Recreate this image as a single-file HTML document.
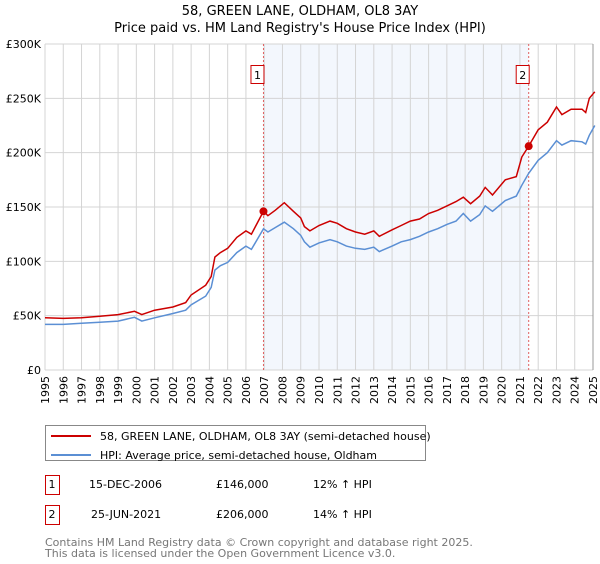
<!DOCTYPE html>
<html><head><meta charset="utf-8"><style>
body{margin:0;background:#fff;width:600px;height:560px;overflow:hidden;font-family:"DejaVu Sans","Liberation Sans",sans-serif;}
svg text{font-family:"DejaVu Sans","Liberation Sans",sans-serif;}
</style></head><body>
<svg id="chart" width="600" height="560" xmlns="http://www.w3.org/2000/svg">
<text x="300" y="15" text-anchor="middle" font-size="13" fill="#000">58, GREEN LANE, OLDHAM, OL8 3AY</text>
<text x="300" y="32" text-anchor="middle" font-size="13" fill="#000">Price paid vs. HM Land Registry's House Price Index (HPI)</text>
<g id="plot"></g>
<rect x="45.5" y="425.5" width="380" height="35" fill="#fff" stroke="#888"/>
<line x1="51" y1="436" x2="91" y2="436" stroke="#cc0000" stroke-width="2"/>
<text x="100" y="440" font-size="11">58, GREEN LANE, OLDHAM, OL8 3AY (semi-detached house)</text>
<line x1="51" y1="455" x2="91" y2="455" stroke="#5b8fd4" stroke-width="2"/>
<text x="100" y="459" font-size="11">HPI: Average price, semi-detached house, Oldham</text>
<rect x="45.5" y="475.5" width="14" height="19" fill="#fff" stroke="#cc0000"/>
<text x="52" y="488" text-anchor="middle" font-size="11">1</text>
<text x="89" y="488" font-size="11">15-DEC-2006</text>
<text x="216" y="488" font-size="11">£146,000</text>
<text x="313" y="488" font-size="11">12% ↑ HPI</text>
<rect x="45.5" y="505.5" width="14" height="19" fill="#fff" stroke="#cc0000"/>
<text x="52" y="518" text-anchor="middle" font-size="11">2</text>
<text x="91" y="518" font-size="11">25-JUN-2021</text>
<text x="216" y="518" font-size="11">£206,000</text>
<text x="313" y="518" font-size="11">14% ↑ HPI</text>
<text x="45" y="546" font-size="11" fill="#777">Contains HM Land Registry data © Crown copyright and database right 2025.</text>
<text x="45" y="557" font-size="11" fill="#777">This data is licensed under the Open Government Licence v3.0.</text>
</svg>
<script>
const yearTicks=[1995,1996,1997,1998,1999,2000,2001,2002,2003,2004,2005,2006,2007,2008,2009,2010,2011,2012,2013,2014,2015,2016,2017,2018,2019,2020,2021,2022,2023,2024,2025];
const valueTicks=[0,50000,100000,150000,200000,250000,300000];
const valueTickLabels=["£0","£50K","£100K","£150K","£200K","£250K","£300K"];
const hpiDates=[1995,1996,1997,1998,1999,1999.9,2000.3,2001,2002,2002.7,2003,2003.8,2004.1,2004.3,2004.6,2005,2005.5,2006,2006.3,2006.96,2007.2,2007.6,2008.1,2008.6,2009,2009.2,2009.5,2010,2010.6,2011,2011.5,2012,2012.5,2013,2013.3,2014,2014.5,2015,2015.5,2016,2016.5,2017,2017.5,2017.9,2018.3,2018.8,2019.1,2019.5,2020.2,2020.8,2021.1,2021.48,2022,2022.5,2023,2023.3,2023.8,2024.4,2024.6,2024.8,2025.1];
const hpiValues=[42000,42000,43000,44000,45000,48500,45000,48000,52000,55000,60000,68000,76000,92000,96000,99000,108000,114000,111000,130000,127000,131000,136000,130000,124000,118000,113000,117000,120000,118000,114000,112000,111000,113000,109000,114000,118000,120000,123000,127000,130000,134000,137000,144000,137000,143000,151000,146000,156000,160000,170000,181000,193000,200000,211000,207000,211000,210000,208000,216000,225000];
const priceDates=hpiDates;
const priceValues=[48000,47500,48000,49500,51000,54000,51000,55000,58000,62000,69000,78000,86000,104000,108000,112000,122000,128000,125000,146000,142000,147000,154000,146000,140000,132000,128000,133000,137000,135000,130000,127000,125000,128000,123000,129000,133000,137000,139000,144000,147000,151000,155000,159000,153000,160000,168000,161000,175000,178000,196000,206000,221000,228000,242000,235000,240000,240000,237000,250000,256000];
const saleDates=[2006.96,2021.48];
const salePrices=[146000,206000];
const saleLabels=["1","2"];

const NS="http://www.w3.org/2000/svg";
const X0=45,X1=593,Y0=370,Y1=44;
const xs=y=>X0+(y-1995)/(2025-1995)*(X1-X0);
const ys=v=>Y0-v/300000*(Y0-Y1);
const plot=document.getElementById('plot');
function mk(t,a){const e=document.createElementNS(NS,t);for(const k in a)e.setAttribute(k,a[k]);plot.appendChild(e);return e;}
let r=mk('rect',{x:xs(saleDates[0]),y:Y1,width:xs(saleDates[1])-xs(saleDates[0]),height:Y0-Y1,fill:'#eef3fc',opacity:0.7});


yearTicks.forEach(y=>{
 const l=mk('line',{x1:xs(y),x2:xs(y),y1:Y1,y2:Y0,stroke:'#d4d4d4'});
 
 
 const t=mk('text',{x:0,y:0,'font-size':11,'text-anchor':'end',transform:`translate(${xs(y)+4},${Y0+6}) rotate(-90)`});
 t.textContent=y;
 
 
});
valueTicks.forEach((v,i)=>{
 const l=mk('line',{x1:X0,x2:X1,y1:ys(v),y2:ys(v),stroke:'#d4d4d4'});
 
 
 const t=mk('text',{x:X0-4,y:ys(v)+4,'font-size':11,'text-anchor':'end'});
 t.textContent=valueTickLabels[i];
 
 
});
let b=mk('line',{x1:X1,x2:X1,y1:Y1,y2:Y0,stroke:'#999'});


saleDates.forEach((d,i)=>{
 const l=mk('line',{x1:xs(d),x2:xs(d),y1:Y1,y2:Y0,stroke:'#e06060','stroke-dasharray':'2,2'});
 
 
});
function path(ds,vs,c,name){
 const p=mk('path',{d:ds.map((d,i)=>(i?'L':'M')+xs(d).toFixed(1)+','+ys(vs[i]).toFixed(1)).join(''),fill:'none',stroke:c,'stroke-width':1.5});
 
 
}
path(hpiDates,hpiValues,'#5b8fd4','hpi-line');
path(priceDates,priceValues,'#cc0000','price-line');
saleDates.forEach((d,i)=>{
 const c=mk('circle',{cx:xs(d),cy:ys(salePrices[i]),r:4,fill:'#cc0000'});
 
 
 const bx=mk('rect',{x:xs(d)-12.5,y:65.5,width:13,height:18,fill:'#fff',stroke:'#cc0000'});
 
 
 const t=mk('text',{x:xs(d)-6,y:79,'font-size':11,'text-anchor':'middle'});
 t.textContent=saleLabels[i];
 
 
});
</script>
</body></html>
